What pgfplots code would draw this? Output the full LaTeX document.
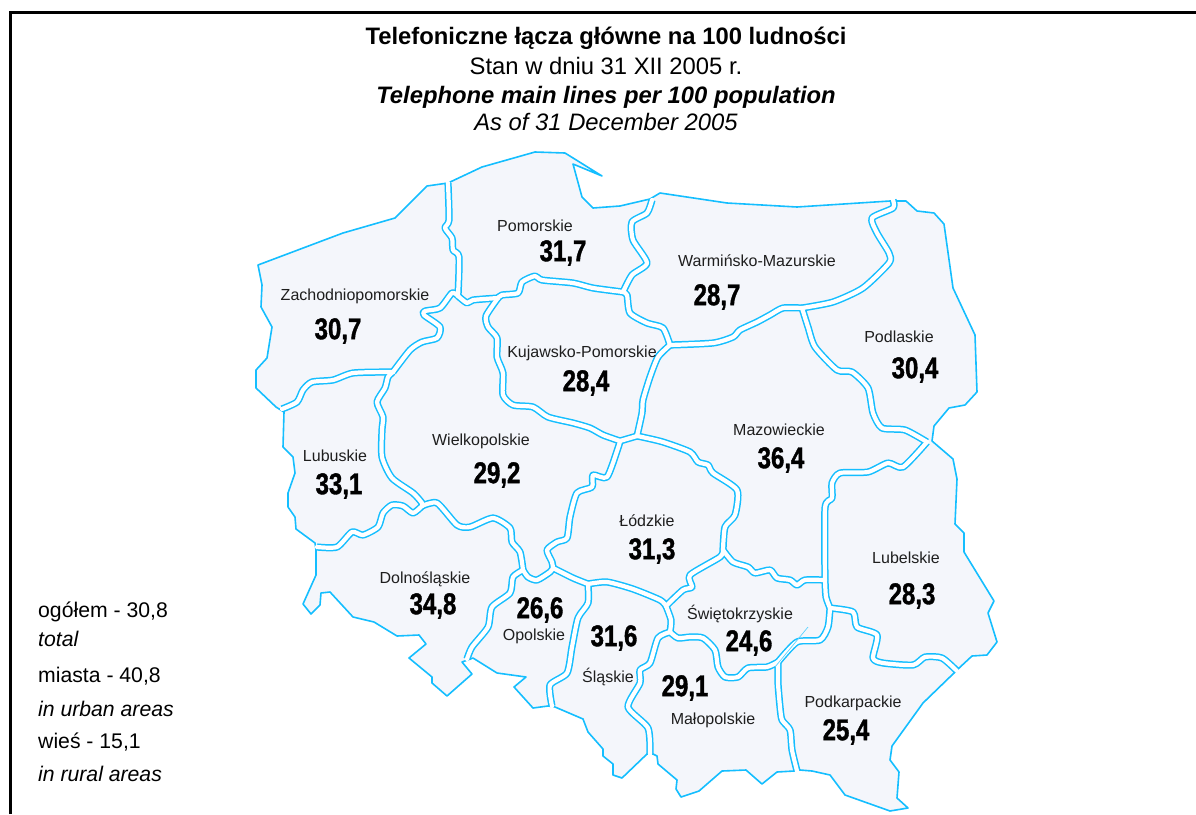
\documentclass[border=0pt]{standalone}
\usepackage{pgfplots}
\pgfplotsset{compat=1.18}
\usepackage{fontspec}
\setmainfont{Liberation Sans}
\newfontfamily\numf[UprightFont={* Bold},FakeStretch=0.8,FakeBold=1.2]{Liberation Sans}
\definecolor{mapline}{RGB}{20,190,255}
\definecolor{mapfill}{RGB}{244,246,251}
\definecolor{labeltxt}{RGB}{30,30,30}

% shared borders between the voivodeships, centre lines, drawn twice for the double line
\newcommand{\Borders}[1]{%
  \addplot[#1] coordinates {(448,183)(449,220)(445,228)(452,238)(453,250)(459,257)(458,296)};
  \addplot[#1] coordinates {(458,296)(452,293)(440,308)(425,311)(424,315)(440,327)(437,338)(422,342)(410,350)(393,372)};
  \addplot[#1] coordinates {(393,372)(387,372)(353,373)(333,380)(312,382)(303,390)(297,402)(282,409)};
  \addplot[#1] coordinates {(393,372)(388,377)(385,388)(377,402)(383,417)(382,430)(382,457)(392,478)(413,493)(422,503)(422,506)};
  \addplot[#1] coordinates {(422,506)(413,513)(403,506)(392,505)(383,513)(378,527)(363,535)(352,532)(337,547)(317,547)};
  \addplot[#1] coordinates {(422,506)(437,503)(457,525)(470,527)(493,518)(510,528)(512,542)(520,552)(523,570)};
  \addplot[#1] coordinates {(523,570)(513,577)(510,593)(492,607)(488,627)(472,647)(467,659)};
  \addplot[#1] coordinates {(523,570)(528,577)(537,580)(550,572)(553,568)};
  \addplot[#1] coordinates {(553,568)(552,562)(547,550)(557,542)(567,538)(570,517)(577,493)(592,487)(593,475)(607,477)(618,448)(620,441)};
  \addplot[#1] coordinates {(553,568)(573,578)(588,584)};
  \addplot[#1] coordinates {(588,584)(588,603)(578,618)(572,647)(567,673)(550,685)(552,706)};
  \addplot[#1] coordinates {(588,584)(607,582)(633,589)(660,600)(666,606)};
  \addplot[#1] coordinates {(666,606)(683,590)(692,587)(690,575)(720,557)(723,550)};
  \addplot[#1] coordinates {(723,550)(725,527)(735,515)(737,490)(713,473)(708,465)(698,462)(690,452)(663,442)(642,437)(637,436)};
  \addplot[#1] coordinates {(620,441)(603,435)(590,428)(573,423)(548,417)(533,407)(513,405)(503,395)(503,373)(497,357)(497,338)(488,327)(486,316)(498,298)};
  \addplot[#1] coordinates {(458,296)(467,303)(473,300)(498,298)};
  \addplot[#1] coordinates {(498,298)(502,295)(518,293)(522,282)(535,276)(542,280)(573,283)(593,288)(623,292)};
  \addplot[#1] coordinates {(623,292)(627,295)(630,313)(647,323)(663,328)(670,345)};
  \addplot[#1] coordinates {(670,345)(658,357)(650,377)(643,400)(642,413)(637,436)};
  \addplot[#1] coordinates {(620,441)(637,436)};
  \addplot[#1] coordinates {(623,292)(632,275)(647,263)(633,240)(632,222)(647,213)(652,200)};
  \addplot[#1] coordinates {(670,345)(713,343)(733,337)(740,330)(757,322)(770,315)(783,308)(802,308)};
  \addplot[#1] coordinates {(802,308)(833,302)(863,288)(889,263)(889,253)(877,233)(872,218)(893,208)(893,200)};
  \addplot[#1] coordinates {(802,308)(808,327)(815,347)(837,370)(852,372)(868,388)(873,413)(882,428)(905,430)(927,442)};
  \addplot[#1] coordinates {(927,442)(903,467)(888,463)(868,472)(840,473)(832,483)(832,498)(825,508)(825,580)};
  \addplot[#1] coordinates {(723,550)(733,562)(748,567)(755,573)(770,570)(777,578)(790,580)(797,585)(805,580)(825,580)};
  \addplot[#1] coordinates {(825,580)(826,597)(830,608)};
  \addplot[#1] coordinates {(830,608)(853,612)(857,627)(877,635)(873,658)(883,663)(913,665)(925,657)(942,658)(957,671)};
  \addplot[#1] coordinates {(830,608)(828,627)(820,640)(797,642)(778,662)};
  \addplot[#1] coordinates {(778,662)(767,667)(748,668)(738,677)(725,677)(718,667)(715,650)(703,638)(690,637)(678,638)(670,632)};
  \addplot[#1] coordinates {(666,606)(671,620)(670,632)};
  \addplot[#1] coordinates {(670,632)(658,638)(650,663)(640,670)(640,683)(628,707)(648,728)(650,754)};
  \addplot[#1] coordinates {(778,662)(778,683)(780,707)(782,720)(790,730)(792,750)(797,771)};
}

\begin{document}
\begin{tikzpicture}
\useasboundingbox (0,0) rectangle (1196pt,814pt);
\begin{axis}[
  at={(0,0)}, anchor=south west,
  scale only axis, width=1196pt, height=814pt,
  xmin=0, xmax=1196, ymin=0, ymax=814,
  y dir=reverse,
  hide axis,
  every axis plot/.append style={mark=none},
]
% frame
\addplot[black, line width=3pt, line cap=butt] coordinates {(10.5,814)(10.5,12.5)(1196,12.5)};

% outer outline of the country
\addplot[mapline, fill=mapfill, line width=1.6pt, line join=round] coordinates {
  (448,183)(482,167)(535,152)(565,153)(602,176)(573,164)(582,197)(593,208)(620,206)(650,199)
  (660,193)(727,203)(797,207)(890,201)(897,201)(906,201)(917,211)(934,213)(944,224)(953,288)
  (975,335)(977,392)(965,405)(949,408)(934,426)(932,441)(953,459)(957,479)(955,524)(964,533)
  (964,552)(994,601)(988,613)(997,642)(987,655)(972,656)(958,669)(954,673)(923,703)(892,746)
  (890,760)(899,772)(897,798)(908,808)(890,811)(845,795)(830,775)(812,771)(800,770)(794,771)
  (777,772)(762,784)(746,770)(722,771)(699,791)(681,797)(676,789)(677,780)(658,764)(657,756)
  (653,754)(647,754)(622,778)(613,775)(613,764)(603,756)(603,749)(588,732)(583,719)(555,707)
  (548,706)(533,708)(514,687)(526,677)(497,673)(473,658)(462,662)(472,674)(447,696)(432,683)
  (432,677)(409,658)(426,644)(419,635)(397,636)(374,622)(353,617)(330,592)(321,593)(320,605)
  (311,614)(303,604)(316,575)(316,550)(315,543)(296,529)(295,517)(288,507)(288,493)(295,473)
  (293,457)(283,447)(284,412)(276,407)(256,388)(256,370)(267,358)(272,327)(261,307)(262,285)
  (258,265)(343,233)(395,218)(427,186)(448,183)};

\Borders{mapline, line width=7.2pt, line join=round, line cap=butt, smooth, tension=0.4}
\Borders{white, line width=4.2pt, line join=round, line cap=round, smooth, tension=0.4}
\addplot[mapline!70, line width=0.7pt] coordinates {(808,627)(775,667)};

% values
\addplot[only marks, mark=none, draw=none,
  nodes near coords, point meta=explicit symbolic,
  every node near coord/.style={anchor=center, inner sep=0pt, text=black,
    font=\numf\fontsize{30}{32}\selectfont},
] table[meta=label] {
x y label
563 253 31,7
717 297 28,7
338 331 30,7
915 370 30,4
586 383 28,4
781 460 36,4
339 486 33,1
497 475 29,2
652 551 31,3
912 596 28,3
433 606 34,8
540 610 26,6
614 638 31,6
749 643 24,6
685 688 29,1
846 732 25,4
};

% names
\begin{scope}[every node/.style={inner sep=0pt, text=labeltxt, font=\fontsize{16}{18}\selectfont}]
\node at (axis cs:535,226) {Pomorskie};
\node at (axis cs:757,261) {Warmińsko-Mazurskie};
\node at (axis cs:355,296) {Zachodniopomorskie};
\node at (axis cs:899,337) {Podlaskie};
\node at (axis cs:582,353) {Kujawsko-Pomorskie};
\node at (axis cs:779,430) {Mazowieckie};
\node at (axis cs:335,456) {Lubuskie};
\node at (axis cs:481,441) {Wielkopolskie};
\node at (axis cs:647,521) {Łódzkie};
\node at (axis cs:906,558) {Lubelskie};
\node at (axis cs:425,579) {Dolnośląskie};
\node at (axis cs:534,636) {Opolskie};
\node at (axis cs:608,677) {Śląskie};
\node at (axis cs:740,614) {Świętokrzyskie};
\node at (axis cs:713,720) {Małopolskie};
\node at (axis cs:853,703) {Podkarpackie};
\end{scope}

% title
\begin{scope}[every node/.style={inner sep=0pt, anchor=base, text=black, font=\fontsize{23.8}{26}\selectfont}]
\node at (axis cs:606,44) {\bfseries Telefoniczne łącza główne na 100 ludności};
\node at (axis cs:606,74) {Stan w dniu 31 XII 2005 r.};
\node at (axis cs:606,103) {\bfseries\itshape Telephone main lines per 100 population};
\node at (axis cs:606,130) {\itshape As of 31 December 2005};
\end{scope}

% totals
\begin{scope}[every node/.style={inner sep=0pt, anchor=base west, text=black, font=\fontsize{21.2}{24}\selectfont}]
\node at (axis cs:38,617) {ogółem - 30,8};
\node at (axis cs:38,646) {\itshape total};
\node at (axis cs:38,682) {miasta - 40,8};
\node at (axis cs:38,716) {\itshape in urban areas};
\node at (axis cs:38,748) {wieś - 15,1};
\node at (axis cs:38,781) {\itshape in rural areas};
\end{scope}
\end{axis}
\end{tikzpicture}
\end{document}
